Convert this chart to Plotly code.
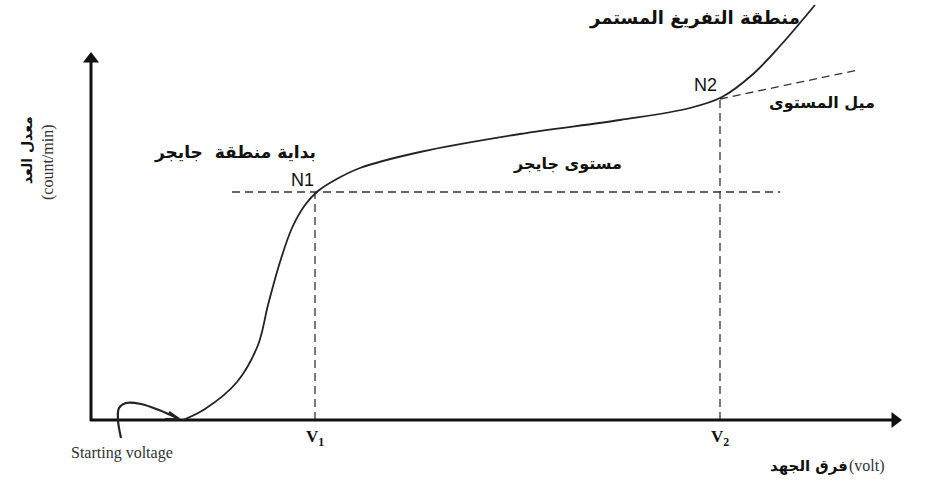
import plotly.graph_objects as go

# Geiger plateau curve (arbitrary voltage units, count rate units)
voltage = [92, 114, 146, 167, 177, 189, 201, 214, 227, 244, 269, 329, 429, 529, 599, 631, 661, 689, 724]
count_rate = [0, 11, 38, 75, 115, 158, 192, 215, 229, 240, 252, 268, 286, 300, 312, 323, 345, 374, 415]

# key points
v1, n1 = 224, 228
v2, n2 = 629, 321
plateau_left, plateau_right = 141, 689
slope_end = (767, 350)

# "starting voltage" pointer path
ptr_x = [30, 27, 28, 35, 50, 68, 86]
ptr_y = [-18, 0, 12, 17, 16, 10, 2]

x_axis_end = 810
y_axis_end = 367

fig = go.Figure()

dash = "8px,5px"
dcol = "#333"

for xs, ys in [([plateau_left, plateau_right], [n1, n1]), ([v1, v1], [0, n1]),
               ([v2, v2], [0, n2]), ([v2, slope_end[0]], [n2, slope_end[1]])]:
    fig.add_trace(go.Scatter(x=xs, y=ys, mode="lines",
                             line=dict(color=dcol, width=1.3, dash=dash), hoverinfo="skip"))

# axes with arrowheads
fig.add_trace(go.Scatter(x=[-1, x_axis_end - 6], y=[0, 0], mode="lines",
                         line=dict(color="#111", width=3), hoverinfo="skip"))
fig.add_trace(go.Scatter(x=[0, 0], y=[-1, y_axis_end - 6], mode="lines",
                         line=dict(color="#111", width=3), hoverinfo="skip"))
fig.add_trace(go.Scatter(x=[x_axis_end - 6], y=[0], mode="markers",
                         marker=dict(symbol="triangle-right", size=14, color="#111"), hoverinfo="skip"))
fig.add_trace(go.Scatter(x=[0], y=[y_axis_end - 6], mode="markers",
                         marker=dict(symbol="triangle-up", size=14, color="#111"), hoverinfo="skip"))

# main curve
fig.add_trace(go.Scatter(x=voltage, y=count_rate, mode="lines",
                         line=dict(color="#222", width=1.8, shape="spline", smoothing=1),
                         hoverinfo="skip"))

# pointer
fig.add_trace(go.Scatter(x=ptr_x, y=ptr_y, mode="lines",
                         line=dict(color="#222", width=2.2, shape="spline", smoothing=1),
                         hoverinfo="skip"))
fig.add_trace(go.Scatter(x=[78, 88, 74], y=[8, 1, 1], mode="lines",
                         line=dict(color="#222", width=2.2), hoverinfo="skip"))

ann = []
ar = "DejaVu Sans"
def t(x, y, s, size, family=ar, angle=0, color="#111", xanchor="center"):
    ann.append(dict(x=x, y=y, xref="x", yref="y", text=s, showarrow=False, xanchor=xanchor,
                    textangle=angle, font=dict(family=family, size=size, color=color)))

t(603, 402, "<b>منطقة التفريغ المستمر</b>", 18)
t(614, 335, "N2", 18, "Liberation Sans")
t(731, 318, "<b>ميل المستوى</b>", 16)
t(144, 268, "<b>بداية منطقة  جايجر</b>", 17)
t(211, 240, "N1", 18, "Liberation Sans")
t(476, 257, "<b>مستوى جايجر</b>", 16)
t(224, -18, "<b>V<sub>1</sub></b>", 17, "Liberation Serif")
t(629, -18, "<b>V<sub>2</sub></b>", 17, "Liberation Serif")
t(31, -33, "Starting voltage", 16, "Liberation Serif", color="#333")
t(759, -46, "<b>فرق الجهد</b>", 15, xanchor="right")
t(756, -46, "(volt)", 16, "Liberation Serif", color="#333", xanchor="left")
t(-64, 270, "<b>معدل العد</b>", 14, angle=-90)
t(-43, 258, "(count/min)", 16, "Liberation Serif", angle=-90, color="#333")

fig.update_layout(
    width=929, height=489, margin=dict(l=0, r=0, t=0, b=0),
    plot_bgcolor="white", paper_bgcolor="white", showlegend=False,
    xaxis=dict(range=[-91, 838], visible=False, fixedrange=True),
    yaxis=dict(range=[-69, 420], visible=False, fixedrange=True),
    annotations=ann,
)

fig.write_html("out.html")
